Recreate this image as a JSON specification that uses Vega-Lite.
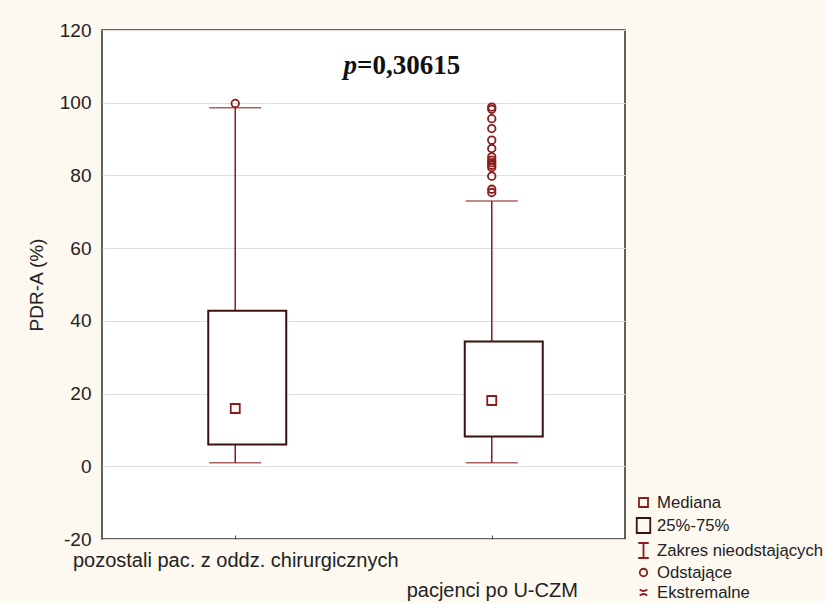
{
  "$schema": "https://vega.github.io/schema/vega-lite/v6.json",
  "autosize": {"type": "none"},
  "padding": {"left": 102, "top": 30, "right": 201, "bottom": 64},
  "width": 523,
  "height": 509,
  "background": "#fdf9f1",
  "config": {
    "view": {"fill": "white", "stroke": "#2e2e2e", "strokeWidth": 1.5},
    "font": "Liberation Sans",
    "axis": {"labelFont": "Liberation Sans", "titleFont": "Liberation Sans", "labelColor": "#222", "titleColor": "#222", "titleFontWeight": "normal"}
  },
  "datasets": {
    "boxes": [
      {"g": 1, "lo": 1.0, "q1": 6.0, "med": 15.9, "q3": 42.8, "hi": 98.6},
      {"g": 2, "lo": 1.0, "q1": 8.2, "med": 18.1, "q3": 34.3, "hi": 73.0}
    ],
    "pts": [
      {"g": 1, "v": 15.9, "kind": "Mediana"},
      {"g": 2, "v": 18.1, "kind": "Mediana"},
      {"g": 1, "v": 99.8, "kind": "Odstające"},
      {"g": 2, "v": 98.8, "kind": "Odstające"},
      {"g": 2, "v": 98.2, "kind": "Odstające"},
      {"g": 2, "v": 95.6, "kind": "Odstające"},
      {"g": 2, "v": 92.9, "kind": "Odstające"},
      {"g": 2, "v": 89.7, "kind": "Odstające"},
      {"g": 2, "v": 87.4, "kind": "Odstające"},
      {"g": 2, "v": 85.1, "kind": "Odstające"},
      {"g": 2, "v": 84.2, "kind": "Odstające"},
      {"g": 2, "v": 83.5, "kind": "Odstające"},
      {"g": 2, "v": 82.8, "kind": "Odstające"},
      {"g": 2, "v": 82.2, "kind": "Odstające"},
      {"g": 2, "v": 79.8, "kind": "Odstające"},
      {"g": 2, "v": 76.2, "kind": "Odstające"},
      {"g": 2, "v": 75.3, "kind": "Odstające"}
    ],
    "note": [{"a": "p", "b": "=0,30615"}]
  },
  "layer": [
    {
      "data": {"name": "boxes"},
      "mark": {"type": "rule", "stroke": "#8b1c1c", "strokeWidth": 1.5},
      "encoding": {
        "x": {"field": "g", "type": "quantitative",
          "scale": {"domain": [0.5, 2.5], "nice": false, "zero": false},
          "axis": {"values": [1, 2], "grid": false, "domain": false, "tickSize": -4, "tickColor": "#444",
            "labelExpr": "datum.value == 1 ? 'pozostali pac. z oddz. chirurgicznych' : ['', 'pacjenci po U-CZM']",
            "labelFontSize": 20, "labelLineHeight": 30, "labelPadding": 15, "labelBaseline": "top", "labelLimit": 500, "labelOverlap": false, "title": null}},
        "y": {"field": "lo", "type": "quantitative",
          "scale": {"domain": [-20, 120], "nice": false, "zero": false},
          "axis": {"values": [-20, 0, 20, 40, 60, 80, 100, 120], "grid": true, "gridColor": "#dedede", "ticks": false, "domain": false,
            "labelExpr": "datum.value < 0 ? '-' + abs(datum.value) : '' + datum.value",
            "labelFontSize": 19, "labelPadding": 11, "title": "PDR-A (%)", "titleFontSize": 19, "titlePadding": 13}},
        "y2": {"field": "hi"}
      }
    },
    {
      "data": {"name": "boxes"},
      "mark": {"type": "tick", "orient": "horizontal", "color": "#8b1c1c", "size": 52, "thickness": 1.5},
      "encoding": {
        "x": {"field": "g", "type": "quantitative"},
        "y": {"field": "lo", "type": "quantitative"}
      }
    },
    {
      "data": {"name": "boxes"},
      "mark": {"type": "tick", "orient": "horizontal", "color": "#8b1c1c", "size": 52, "thickness": 1.5},
      "encoding": {
        "x": {"field": "g", "type": "quantitative"},
        "y": {"field": "hi", "type": "quantitative"}
      }
    },
    {
      "data": {"name": "boxes"},
      "mark": {"type": "bar", "width": 78, "xOffset": 12, "fill": "white", "stroke": "#3b1010", "strokeWidth": 2},
      "encoding": {
        "x": {"field": "g", "type": "quantitative"},
        "y": {"field": "q1", "type": "quantitative"},
        "y2": {"field": "q3"}
      }
    },
    {
      "data": {"name": "pts"},
      "mark": {"type": "point", "filled": false, "size": 225, "strokeWidth": 1.8, "opacity": 1},
      "encoding": {
        "x": {"field": "g", "type": "quantitative"},
        "y": {"field": "v", "type": "quantitative"},
        "shape": {"field": "kind", "type": "nominal",
          "scale": {"domain": ["Mediana", "25%-75%", "Zakres nieodstających", "Odstające", "Ekstremalne"],
            "range": ["M-0.6,-0.6H0.6V0.6H-0.6Z", "M-0.9,-1H0.9V1H-0.9Z", "M-0.7,-1H0.7M0,-1V1M-0.7,1H0.7",
              "M0.5,0A0.5,0.5,0,1,1,-0.5,0A0.5,0.5,0,1,1,0.5,0Z", "M-0.5,-0.4Q0,0,0.5,-0.4M-0.5,0.4Q0,0,0.5,0.4"]},
          "legend": {"orient": "none", "legendX": 533, "legendY": 464, "title": null, "labelFont": "Liberation Sans",
            "labelFontSize": 16.7, "labelColor": "#222", "labelLimit": 300, "symbolSize": 225, "symbolStrokeWidth": 1.8, "rowPadding": 2, "labelOffset": 5, "padding": 0}},
        "stroke": {"field": "kind", "type": "nominal",
          "scale": {"domain": ["Mediana", "25%-75%", "Zakres nieodstających", "Odstające", "Ekstremalne"],
            "range": ["#8b1c1c", "#3b1010", "#8b1c1c", "#8b1c1c", "#8b1c1c"]},
          "legend": {"orient": "none", "legendX": 533, "legendY": 464, "title": null, "labelFont": "Liberation Sans",
            "labelFontSize": 16.7, "labelColor": "#222", "labelLimit": 300, "symbolSize": 225, "symbolStrokeWidth": 1.8, "rowPadding": 2, "labelOffset": 5, "padding": 0}}
      }
    },
    {
      "data": {"name": "note"},
      "mark": {"type": "text", "font": "Liberation Serif", "fontWeight": "bold", "fontStyle": "italic", "fontSize": 27, "align": "right", "baseline": "middle", "color": "#111"},
      "encoding": {
        "x": {"datum": 1.475, "type": "quantitative"},
        "y": {"datum": 110, "type": "quantitative"},
        "text": {"field": "a"}
      }
    },
    {
      "data": {"name": "note"},
      "mark": {"type": "text", "font": "Liberation Serif", "fontWeight": "bold", "fontSize": 27, "align": "left", "baseline": "middle", "color": "#111"},
      "encoding": {
        "x": {"datum": 1.475, "type": "quantitative"},
        "y": {"datum": 110, "type": "quantitative"},
        "text": {"field": "b"}
      }
    }
  ]
}
